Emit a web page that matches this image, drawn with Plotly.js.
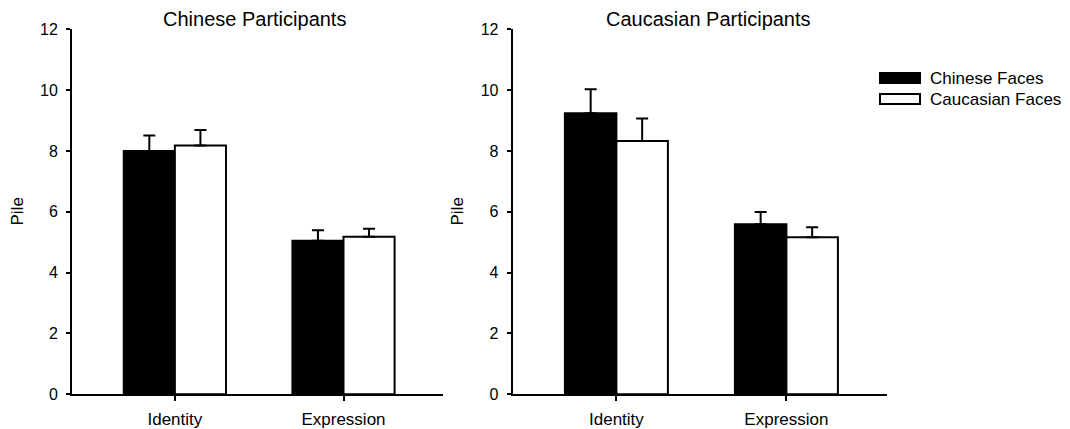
<!DOCTYPE html>
<html>
<head>
<meta charset="utf-8">
<script src="https://cdn.plot.ly/plotly-3.0.1.min.js"></script>
<style>
  html, body { margin: 0; padding: 0; background: #fff; }
  #chart { width: 1070px; height: 429px; }
</style>
</head>
<body>
<div id="chart"></div>
<script>
// Task conditions on the x axis
const conditions = ['Identity', 'Expression'];

// Face-race series names
const seriesNames = ['Chinese Faces', 'Caucasian Faces'];

// Panel titles (participant groups)
const panelTitles = ['Chinese Participants', 'Caucasian Participants'];

// Mean pile counts and upper error (SEM) — Chinese participants
const chnPartChineseFaces = [8.00, 5.05];
const chnPartChineseErr   = [0.51, 0.34];
const chnPartCaucFaces    = [8.18, 5.18];
const chnPartCaucErr      = [0.51, 0.26];

// Mean pile counts and upper error (SEM) — Caucasian participants
const cauPartChineseFaces = [9.24, 5.59];
const cauPartChineseErr   = [0.79, 0.40];
const cauPartCaucFaces    = [8.33, 5.16];
const cauPartCaucErr      = [0.74, 0.33];

const yTicks = [0, 2, 4, 6, 8, 10, 12];

const W = 1070, H = 429;
const px = x => x / W;
const py = y => 1 - y / H;
const FONT = 'Liberation Sans, Arial, sans-serif';

function barTrace(name, values, errs, fill, xa, ya) {
  return {
    type: 'bar',
    name: name,
    x: conditions,
    y: values,
    xaxis: xa,
    yaxis: ya,
    showlegend: false,
    marker: { color: fill, line: { color: '#000', width: 2 } },
    error_y: {
      type: 'data',
      symmetric: false,
      array: errs,
      arrayminus: errs.map(() => 0),
      color: '#000',
      thickness: 2,
      width: 6
    },
    hoverinfo: 'skip'
  };
}

const traces = [
  barTrace(seriesNames[0], chnPartChineseFaces, chnPartChineseErr, '#000', 'x', 'y'),
  barTrace(seriesNames[1], chnPartCaucFaces, chnPartCaucErr, '#fff', 'x', 'y'),
  barTrace(seriesNames[0], cauPartChineseFaces, cauPartChineseErr, '#000', 'x2', 'y2'),
  barTrace(seriesNames[1], cauPartCaucFaces, cauPartCaucErr, '#fff', 'x2', 'y2')
];

const yDomain = [py(394.3), py(29.3)];

function xAxis(domain, anchor) {
  return {
    domain: domain,
    anchor: anchor,
    type: 'category',
    range: [-0.61, 1.59],
    showline: true, linecolor: '#000', linewidth: 2,
    ticks: 'outside', ticklen: 5, tickwidth: 2, tickcolor: '#000',
    ticklabelstandoff: 3,
    showgrid: false, zeroline: false,
    tickfont: { family: FONT, size: 17, color: '#000' },
    fixedrange: true
  };
}

function yAxis(anchor) {
  return {
    domain: yDomain,
    anchor: anchor,
    range: [0, 12],
    tickvals: yTicks,
    ticktext: yTicks.map(String),
    showline: true, linecolor: '#000', linewidth: 2,
    ticks: 'outside', ticklen: 4, tickwidth: 2, tickcolor: '#000',
    ticklabelstandoff: 5,
    showgrid: false, zeroline: false,
    tickfont: { family: FONT, size: 16, color: '#000' },
    fixedrange: true
  };
}

const annotations = [
  { text: panelTitles[0], x: px(254), y: py(19), xanchor: 'center', yanchor: 'middle',
    xref: 'paper', yref: 'paper', showarrow: false, font: { family: FONT, size: 20, color: '#000' } },
  { text: panelTitles[1], x: px(708), y: py(19), xanchor: 'center', yanchor: 'middle',
    xref: 'paper', yref: 'paper', showarrow: false, font: { family: FONT, size: 20, color: '#000' } },
  { text: 'Pile', x: px(17.5), y: py(212), textangle: -90, xanchor: 'center', yanchor: 'middle',
    xref: 'paper', yref: 'paper', showarrow: false, font: { family: FONT, size: 17, color: '#000' } },
  { text: 'Pile', x: px(457.5), y: py(212), textangle: -90, xanchor: 'center', yanchor: 'middle',
    xref: 'paper', yref: 'paper', showarrow: false, font: { family: FONT, size: 17, color: '#000' } },
  // legend labels
  { text: seriesNames[0], x: px(928), y: py(78), xanchor: 'left', yanchor: 'middle',
    xref: 'paper', yref: 'paper', showarrow: false, font: { family: FONT, size: 17, color: '#000' } },
  { text: seriesNames[1], x: px(928), y: py(99), xanchor: 'left', yanchor: 'middle',
    xref: 'paper', yref: 'paper', showarrow: false, font: { family: FONT, size: 17, color: '#000' } }
];

// legend swatches
const shapes = [
  { type: 'rect', xref: 'paper', yref: 'paper', x0: px(880), x1: px(920), y0: py(83), y1: py(73),
    fillcolor: '#000', line: { color: '#000', width: 2 } },
  { type: 'rect', xref: 'paper', yref: 'paper', x0: px(880), x1: px(920), y0: py(104), y1: py(94),
    fillcolor: '#fff', line: { color: '#000', width: 2 } }
];

const layout = {
  width: W, height: H,
  margin: { l: 0, r: 0, t: 0, b: 0 },
  paper_bgcolor: '#fff', plot_bgcolor: '#fff',
  barmode: 'group',
  bargap: 0.394,
  bargroupgap: 0,
  showlegend: false,
  font: { family: FONT, color: '#000' },
  xaxis: xAxis([px(72), px(443)], 'y'),
  yaxis: yAxis('x'),
  xaxis2: xAxis([px(512.7), px(886.7)], 'y2'),
  yaxis2: yAxis('x2'),
  annotations: annotations,
  shapes: shapes
};

Plotly.newPlot('chart', traces, layout, { displayModeBar: false, staticPlot: true });
</script>
</body>
</html>
